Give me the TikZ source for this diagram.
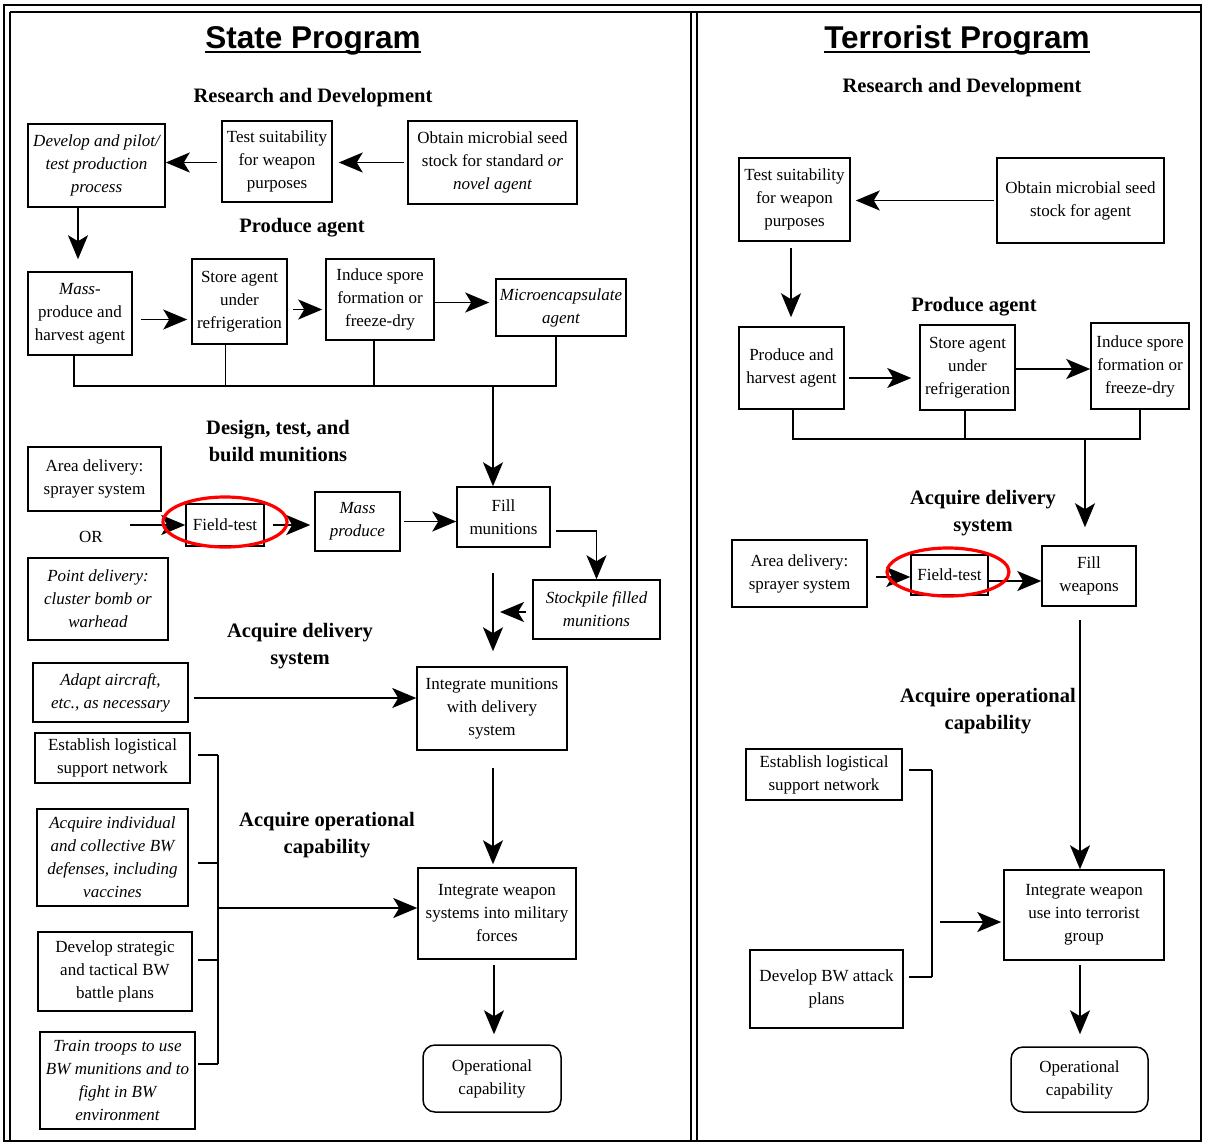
\documentclass[tikz,border=0pt]{standalone}
\usepackage{fontspec}
\setmainfont{Liberation Serif}
\newfontfamily\titlefont{Liberation Sans}
\usetikzlibrary{arrows.meta}
\begin{document}
\begin{tikzpicture}[x=1pt,y=-1pt,
  box/.style={draw, line width=1.5pt, inner sep=0pt, align=center, font=\fontsize{17}{23}\selectfont},
  sz/.style n args={2}{minimum width=#1pt, minimum height=#2pt},
  head/.style={inner sep=0pt, align=center, font=\bfseries\fontsize{20.5}{27}\selectfont},
  ttl/.style={inner sep=0pt, anchor=base, font=\titlefont\bfseries\fontsize{31.5}{36}\selectfont},
  arr/.style={line width=1.7pt, -{Stealth[length=24pt,width=20pt,inset=6pt,fill=black]}},
  ln/.style={line width=1.7pt},
  hl/.style={draw=red, line width=3.2pt}]
\useasboundingbox (0,0) rectangle (1205,1144);
% frame
\draw[line width=1.6pt] (4,5) rectangle (1201,1141);
\draw[line width=1.4pt] (10,12) -- (1201,12);
\draw[line width=1.4pt] (10,12) -- (10,1141);
\draw[line width=1.4pt] (691,12) -- (691,1141);
\draw[line width=1.4pt] (697,12) -- (697,1141);

% ================= LEFT: State Program =================
\node[ttl] (t1) at (313,48) {State Program};
\draw[line width=2pt] ([yshift=-4pt]t1.base west) -- ([yshift=-4pt]t1.base east);
\node[head] (h1) at (313,98) {Research and Development};
\node[head] (h2) at (302,228) {Produce agent};
\node[head] (h3) at (278,441) {Design, test, and\\build munitions};
\node[head] (h4) at (300,646) {Acquire delivery\\system};
\node[head] (h5) at (327,835) {Acquire operational\\capability};

\node[box, sz={137}{83}] (dev) at (96.5,165.5) {\itshape Develop and pilot/\\\itshape test production\\\itshape process};
\node[box, sz={110}{81}] (test) at (277,161.5) {Test suitability\\for weapon\\purposes};
\node[box, sz={169}{83}] (obtain) at (492.5,162.5) {Obtain microbial seed\\stock for standard \textit{or}\\\itshape novel agent};
\node[box, sz={104}{83}] (mass) at (80,313.5) {\textit{Mass-}\\produce and\\harvest agent};
\node[box, sz={95}{85}] (store) at (239.5,301.5) {Store agent\\under\\refrigeration};
\node[box, sz={108}{81}] (induce) at (380,299.5) {Induce spore\\formation or\\freeze-dry};
\node[box, sz={130}{57}] (micro) at (561,307.5) {\itshape Microencapsulate\\\itshape agent};
\node[box, sz={133}{64}] (area) at (94.5,479) {Area delivery:\\sprayer system};
\node[inner sep=0pt, font=\fontsize{17}{23}\selectfont] (or) at (91,537) {OR};
\node[box, sz={140}{82}] (point) at (98,599) {\itshape Point delivery:\\\itshape cluster bomb or\\\itshape warhead};
\node[box, sz={78}{42}] (field) at (225,525) {Field-test};
\node[box, sz={85}{59}] (massp) at (357.5,521.5) {\itshape Mass\\\itshape produce};
\node[box, sz={93}{60}] (fill) at (503.5,517) {Fill\\munitions};
\node[box, sz={127}{59}] (stock) at (596.5,609.5) {\itshape Stockpile filled\\\itshape munitions};
\node[box, sz={155}{59}] (adapt) at (110.5,692.5) {\itshape Adapt aircraft,\\\itshape etc., as necessary};
\node[box, sz={150}{83}] (intm) at (492,708.5) {Integrate munitions\\with delivery\\system};
\node[box, sz={155}{50}] (estab) at (112.5,758) {Establish logistical\\support network};
\node[box, sz={151}{97}] (acq) at (112.5,857.5) {\itshape Acquire individual\\\itshape and collective BW\\\itshape defenses, including\\\itshape vaccines};
\node[box, sz={154}{79}] (devs) at (115,971.5) {Develop strategic\\and tactical BW\\battle plans};
\node[box, sz={155}{97}] (train) at (117.5,1080.5) {\itshape Train troops to use\\\itshape BW munitions and to\\\itshape fight in BW\\\itshape environment};
\node[box, sz={158}{91}] (intw) at (497,913.5) {Integrate weapon\\systems into military\\forces};
\node[box, sz={138}{67}, rounded corners=12pt] (opc) at (492,1078.5) {Operational\\capability};

% connectors left
\draw[arr, shorten <=3pt, shorten >=6pt] (obtain.west) -- (obtain.west -| test.east);
\draw[arr, shorten <=4pt] ([yshift=-1pt]test.west) -- ([yshift=-1pt]test.west -| dev.east);
\coordinate (dv) at (78,207);
\draw[arr, shorten >=12pt] (dv) -- (dv |- mass.north);
\draw[arr, shorten <=8pt, shorten >=4pt] ([yshift=-6pt]mass.east) -- ([yshift=-6pt]mass.east -| store.west);
\draw[arr, shorten <=5pt, shorten >=3pt] ([yshift=-8pt]store.east) -- ([yshift=-8pt]store.east -| induce.west);
\draw[arr, shorten >=6pt] ([yshift=-3pt]induce.east) -- ([yshift=-3pt]induce.east -| micro.west);
\coordinate (b4) at (556,386);
\coordinate (fx) at (493,386);
\draw[ln] ([xshift=-6pt]mass.south) |- (b4) -- ([xshift=-5pt]micro.south);
\draw[ln] ([xshift=-14pt]store.south) |- (b4);
\draw[ln] ([xshift=-6pt]induce.south) |- (b4);
\draw[arr] (fx) -- (fx |- fill.north);
\coordinate (orpt) at (130,525);
\draw[arr] (orpt) -- (field.west);
\draw[arr, shorten <=8pt, shorten >=4pt] (field.east) -- (field.east -| massp.west);
\draw[arr, shorten <=3pt] (massp.east) -- (massp.east -| fill.west);
\draw[arr, shorten <=5pt] ([yshift=-14pt]fill.east) -| (stock.north);
\coordinate (sk) at (500,612);
\draw[arr, shorten <=6pt] ([yshift=-2.5pt]stock.west) -- (sk);
\coordinate (v1) at (493,573);
\draw[arr, shorten >=15pt] (v1) -- (v1 |- intm.north);
\draw[arr, shorten <=5pt] ([yshift=-5.5pt]adapt.east) -- ([yshift=-5.5pt]adapt.east -| intm.west);
\coordinate (v2) at (493,768);
\draw[arr, shorten >=3pt] (v2) -- (v2 |- intw.north);
\coordinate (brT) at (218,755);
\coordinate (brB) at (218,1064);
\coordinate (t2) at (218,863);
\coordinate (t3) at (218,960);
\coordinate (bm) at (218,908);
\draw[ln] (brT) -- (brB);
\draw[ln, shorten >=7pt] (brT) -- (brT -| estab.east);
\draw[ln, shorten >=9pt] (t2) -- (t2 -| acq.east);
\draw[ln, shorten >=5pt] (t3) -- (t3 -| devs.east);
\draw[ln, shorten >=2pt] (brB) -- (brB -| train.east);
\draw[arr] (bm) -- (bm -| intw.west);
\coordinate (v3) at (494,965);
\draw[arr, shorten >=10pt] (v3) -- (v3 |- opc.north);

% ================= RIGHT: Terrorist Program =================
\node[ttl] (t2t) at (957,48) {Terrorist Program};
\draw[line width=2pt] ([yshift=-4pt]t2t.base west) -- ([yshift=-4pt]t2t.base east);
\node[head] (rh1) at (962,88) {Research and Development};
\node[head] (rh2) at (974,307) {Produce agent};
\node[head] (rh3) at (983,513) {Acquire delivery\\system};
\node[head] (rh4) at (988,711) {Acquire operational\\capability};

\node[box, sz={111}{83}] (rtest) at (794.5,199.5) {Test suitability\\for weapon\\purposes};
\node[box, sz={167}{85}] (robtain) at (1080.5,200.5) {Obtain microbial seed\\stock for agent};
\node[box, sz={105}{82}] (rprod) at (791.5,368) {Produce and\\harvest agent};
\node[box, sz={95}{85}] (rstore) at (967.5,367.5) {Store agent\\under\\refrigeration};
\node[box, sz={98}{86}] (rinduce) at (1140,366) {Induce spore\\formation or\\freeze-dry};
\node[box, sz={135}{67}] (rarea) at (799.5,573.5) {Area delivery:\\sprayer system};
\node[box, sz={77}{40}] (rfield) at (949.5,575) {Field-test};
\node[box, sz={94}{60}] (rfill) at (1089,576) {Fill\\weapons};
\node[box, sz={156}{51}] (restab) at (824,774.5) {Establish logistical\\support network};
\node[box, sz={153}{78}] (rdev) at (826.5,989) {Develop BW attack\\plans};
\node[box, sz={160}{90}] (rintw) at (1084,915) {Integrate weapon\\use into terrorist\\group};
\node[box, sz={137}{65}, rounded corners=12pt] (ropc) at (1079.5,1079.5) {Operational\\capability};

% connectors right
\draw[arr, shorten <=2pt, shorten >=5pt] (robtain.west) -- (robtain.west -| rtest.east);
\coordinate (rv0) at (791,248);
\draw[arr, shorten >=9pt] (rv0) -- (rv0 |- rprod.north);
\draw[arr, shorten <=4pt, shorten >=8pt] ([yshift=-10pt]rprod.east) -- ([yshift=-10pt]rprod.east -| rstore.west);
\draw[arr, shorten <=-2pt] ([yshift=-1.5pt]rstore.east) -- ([yshift=-1.5pt]rstore.east -| rinduce.west);
\coordinate (rb) at (1140,439);
\coordinate (rfx) at (1085,439);
\draw[ln] ([xshift=1.5pt]rprod.south) |- (rb) -- (rinduce.south);
\draw[ln] ([xshift=-2.5pt]rstore.south) |- (rb);
\draw[arr, shorten >=18pt] (rfx) -- (rfx |- rfill.north);
\draw[arr, shorten <=8pt] ([yshift=-3.5pt]rarea.east) -- ([yshift=-3.5pt]rarea.east -| rfield.west);
\draw[arr] ([yshift=-6pt]rfield.east) -- ([yshift=-6pt]rfield.east -| rfill.west);
\coordinate (rv) at (1080,620);
\draw[arr] (rv) -- (rv |- rintw.north);
\coordinate (rbT) at (932,770);
\coordinate (rbB) at (932,977);
\coordinate (rbm) at (940,922);
\draw[ln] (rbT) -- (rbB);
\draw[ln, shorten >=6pt] (rbT) -- (rbT -| restab.east);
\draw[ln, shorten >=5pt] (rbB) -- (rbB -| rdev.east);
\draw[arr, shorten >=2pt] (rbm) -- (rbm -| rintw.west);
\coordinate (rv3) at (1080,965);
\draw[arr, shorten >=12pt] (rv3) -- (rv3 |- ropc.north);

% highlights
\draw[hl] (field.center) ++(0pt,3pt) ellipse [x radius=62pt, y radius=25pt];
\draw[hl] (rfield.center) ++(-1.5pt,3pt) ellipse [x radius=61pt, y radius=24pt];
\end{tikzpicture}
\end{document}
